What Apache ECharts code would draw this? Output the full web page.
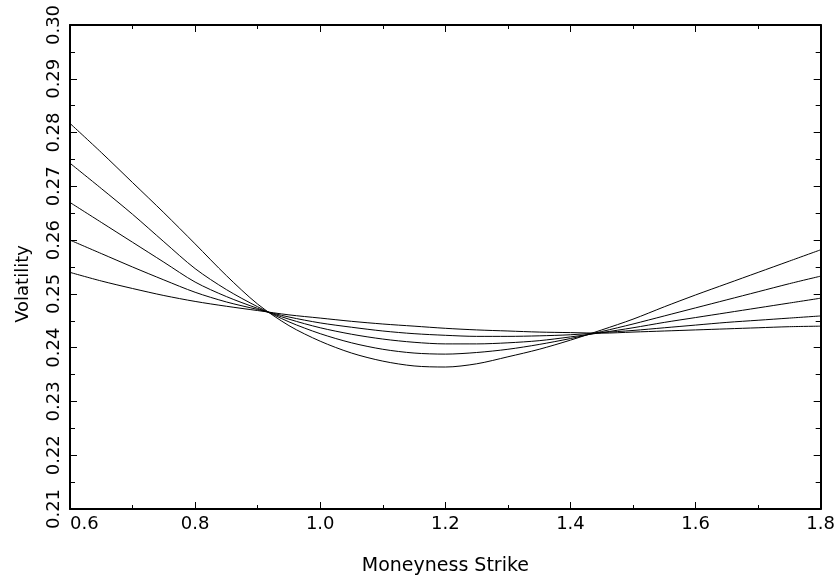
<!DOCTYPE html>
<html>
<head>
<meta charset="UTF-8" />
<title>Volatility smile</title>
<script type="text/javascript" src="https://cdn.jsdelivr.net/npm/echarts@6/dist/echarts.min.js"></script>
<style>
  html, body { margin: 0; padding: 0; background: #fff; }
  #chart { width: 838px; height: 586px; }
</style>
</head>
<body>
<div id="chart"></div>
<script>
// moneyness grid and the five smile curves
var moneyness = [0.60, 0.65, 0.70, 0.75, 0.80, 0.85, 0.90, 0.95, 1.00, 1.05, 1.10, 1.15, 1.20,
                 1.25, 1.30, 1.35, 1.40, 1.45, 1.50, 1.55, 1.60, 1.65, 1.70, 1.75, 1.80];
var vol1 = [0.2817, 0.2763, 0.2707, 0.2651, 0.2593, 0.2534, 0.2481, 0.2441, 0.2412, 0.2390, 0.2375, 0.2366, 0.2364,
            0.2370, 0.2383, 0.2397, 0.2414, 0.2433, 0.2453, 0.2476, 0.2498, 0.2519, 0.2540, 0.2561, 0.2582];
var vol2 = [0.2743, 0.2696, 0.2648, 0.2597, 0.2547, 0.2508, 0.2476, 0.2448, 0.2426, 0.2409, 0.2397, 0.2390, 0.2388,
            0.2391, 0.2397, 0.2406, 0.2417, 0.2430, 0.2444, 0.2459, 0.2474, 0.2489, 0.2504, 0.2519, 0.2533];
var vol3 = [0.2670, 0.2633, 0.2596, 0.2559, 0.2522, 0.2495, 0.2473, 0.2453, 0.2437, 0.2425, 0.2416, 0.2410, 0.2407,
            0.2407, 0.2409, 0.2413, 0.2420, 0.2428, 0.2437, 0.2447, 0.2456, 0.2465, 0.2474, 0.2483, 0.2492];
var vol4 = [0.2600, 0.2575, 0.2550, 0.2526, 0.2503, 0.2485, 0.2471, 0.2457, 0.2446, 0.2438, 0.2431, 0.2426, 0.2423,
            0.2421, 0.2421, 0.2422, 0.2424, 0.2428, 0.2432, 0.2437, 0.2442, 0.2447, 0.2451, 0.2455, 0.2459];
var vol5 = [0.2540, 0.2524, 0.2510, 0.2497, 0.2486, 0.2477, 0.2469, 0.2461, 0.2455, 0.2449, 0.2444, 0.2440, 0.2436,
            0.2433, 0.2431, 0.2429, 0.2428, 0.2427, 0.2429, 0.2431, 0.2433, 0.2435, 0.2437, 0.2439, 0.2440];

var xMin = 0.6, xMax = 1.8, xStep = 0.2;
var yMin = 0.21, yMax = 0.30, yStep = 0.01;

var font = 'DejaVu Sans';
var myChart = echarts.init(document.getElementById('chart'));

function pairs(ys) {
    var out = [];
    for (var i = 0; i < moneyness.length; i++) {
        out.push([moneyness[i], ys[i]]);
    }
    return out;
}

function curve(ys) {
    return {
        type: 'line',
        data: pairs(ys),
        showSymbol: false,
        smooth: 0.3,
        lineStyle: { color: '#000', width: 1 },
        xAxisIndex: 0,
        yAxisIndex: 0
    };
}

var tickStyle = { color: '#000', width: 1 };

myChart.setOption({
    animation: false,
    backgroundColor: '#fff',
    grid: { left: 70, right: 16, top: 25, bottom: 77, containLabel: false },
    xAxis: [{
        type: 'value',
        min: xMin, max: xMax, interval: xStep,
        name: 'Moneyness Strike',
        nameLocation: 'middle',
        nameGap: 48,
        nameTextStyle: { fontFamily: font, fontSize: 19, color: '#000' },
        axisLine: { show: true, lineStyle: { color: '#000', width: 2 } },
        axisTick: { show: true, inside: true, length: 7, lineStyle: tickStyle },
        minorTick: { show: true, splitNumber: 2, length: 4, lineStyle: tickStyle },
        splitLine: { show: false },
        axisLabel: {
            fontFamily: font, fontSize: 18, color: '#000', margin: 6,
            alignMinLabel: 'left',
            formatter: function (v) { return v.toFixed(1); }
        }
    }, {
        type: 'value',
        position: 'top',
        min: xMin, max: xMax, interval: xStep,
        axisLine: { show: true, lineStyle: { color: '#000', width: 2 } },
        axisTick: { show: true, inside: true, length: 7, lineStyle: tickStyle },
        minorTick: { show: true, splitNumber: 2, length: 4, lineStyle: tickStyle },
        splitLine: { show: false },
        axisLabel: { show: false }
    }],
    yAxis: [{
        type: 'value',
        min: yMin, max: yMax, interval: yStep,
        name: 'Volatility',
        nameLocation: 'middle',
        nameGap: 38,
        nameTextStyle: { fontFamily: font, fontSize: 18, color: '#000', padding: [0, 34, 0, 0] },
        axisLine: { show: true, lineStyle: { color: '#000', width: 2 } },
        axisTick: { show: true, inside: true, length: 7, lineStyle: tickStyle },
        minorTick: { show: true, splitNumber: 2, length: 5, lineStyle: tickStyle },
        splitLine: { show: false },
        axisLabel: {
            fontFamily: font, fontSize: 18, color: '#000', margin: 7, rotate: 90,
            formatter: function (v) { return v.toFixed(2); }
        }
    }, {
        type: 'value',
        position: 'right',
        min: yMin, max: yMax, interval: yStep,
        axisLine: { show: true, lineStyle: { color: '#000', width: 2 } },
        axisTick: { show: true, inside: true, length: 7, lineStyle: tickStyle },
        minorTick: { show: true, splitNumber: 2, length: 5, lineStyle: tickStyle },
        splitLine: { show: false },
        axisLabel: { show: false }
    }],
    series: [curve(vol1), curve(vol2), curve(vol3), curve(vol4), curve(vol5)]
});
</script>
</body>
</html>
